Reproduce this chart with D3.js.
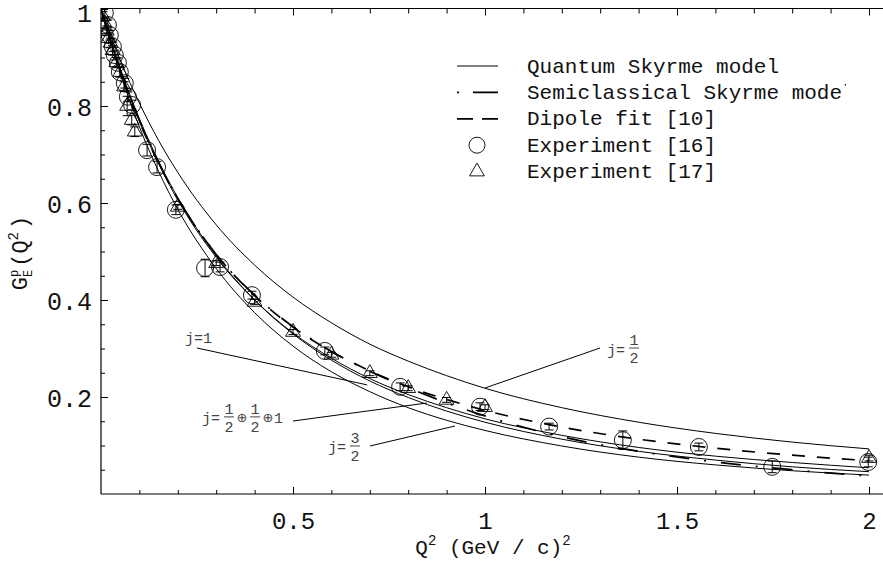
<!DOCTYPE html>
<html><head><meta charset="utf-8">
<script src="https://cdn.jsdelivr.net/npm/d3@7"></script>
<style>body{margin:0;background:#fff}svg{display:block}</style>
</head><body>
<svg id="chart" width="883" height="562"></svg>
<script>
// ---------- data ----------
const q2Grid = [0,0.05,0.1,0.15,0.2,0.3,0.4,0.5,0.6,0.7,0.8,0.9,1.0,1.2,1.4,1.6,1.8,2.0];
const quantumHalf      = [1,0.895,0.806,0.729,0.663,0.555,0.472,0.406,0.353,0.309,0.274,0.244,0.218,0.178,0.148,0.125,0.107,0.093];
const quantumOne       = [1,0.874,0.769,0.681,0.606,0.488,0.400,0.332,0.280,0.238,0.205,0.178,0.155,0.121,0.096,0.078,0.065,0.054];
const quantumMixed     = [1,0.877,0.774,0.686,0.611,0.491,0.400,0.330,0.276,0.233,0.199,0.171,0.148,0.113,0.088,0.070,0.056,0.046];
const quantumThreeHalf = [1,0.868,0.757,0.665,0.587,0.465,0.374,0.305,0.252,0.211,0.178,0.152,0.131,0.099,0.076,0.060,0.048,0.039];
const semiclassical    = [1,0.875,0.770,0.683,0.610,0.494,0.410,0.345,0.294,0.253,0.219,0.188,0.161,0.118,0.088,0.066,0.050,0.037];
const dipoleFit        = [1,0.873,0.768,0.682,0.609,0.494,0.409,0.344,0.294,0.254,0.221,0.195,0.1725,0.138,0.113,0.0945,0.080,0.0686];

const exp16Q   = [0.010,0.018,0.023,0.031,0.036,0.044,0.049,0.062,0.070,0.081,0.120,0.146,0.195,0.271,0.310,0.393,0.583,0.779,0.987,1.167,1.359,1.557,1.748,1.998];
const exp16G   = [0.992,0.967,0.946,0.922,0.905,0.889,0.870,0.847,0.819,0.802,0.709,0.674,0.586,0.466,0.468,0.410,0.295,0.221,0.180,0.139,0.111,0.097,0.056,0.066];
const exp16Err = [0.01,0.01,0.01,0.01,0.01,0.01,0.01,0.01,0.01,0.01,0.012,0.012,0.01,0.018,0.01,0.008,0.008,0.008,0.008,0.007,0.019,0.008,0.012,0.01];

const exp17Q   = [0.005,0.010,0.015,0.020,0.025,0.030,0.040,0.050,0.060,0.068,0.080,0.088,0.2,0.3,0.4,0.5,0.6,0.7,0.8,0.9,1.0,2.0];
const exp17G   = [0.985,0.970,0.955,0.940,0.930,0.915,0.890,0.870,0.840,0.800,0.771,0.747,0.592,0.476,0.396,0.334,0.287,0.249,0.218,0.194,0.179,0.074];
const exp17Err = [0.01,0.01,0.01,0.01,0.01,0.01,0.01,0.01,0.01,0.02,0.01,0.01,0.005,0.005,0.005,0.005,0.005,0.005,0.005,0.005,0.005,0.006];

const xTickValues = [0.5,1,1.5,2];
const xTickLabels = ["0.5","1","1.5","2"];
const yTickValues = [0.2,0.4,0.6,0.8,1];
const yTickLabels = ["0.2","0.4","0.6","0.8","1"];

const legendLabels = ["Quantum Skyrme model","Semiclassical Skyrme model","Dipole fit [10]","Experiment [16]","Experiment [17]"];

// annotation anchors in data units
const annotations = [
  {tokens:["j=1"], at:[0.219,0.311], from:[0.250,0.301], to:[0.693,0.225], simple:true},
  {tokens:["j=",["1","2"],"⊕",["1","2"],"⊕","1"], at:[0.263,0.159], from:[0.500,0.1505], to:[0.849,0.1876]},
  {tokens:["j=",["3","2"]], at:[0.591,0.099], from:[0.7005,0.099], to:[0.9219,0.1402]},
  {tokens:["j=",["1","2"]], at:[1.318,0.301], from:[1.2995,0.301], to:[1.0,0.2186]}
];

// ---------- layout ----------
const svg = d3.select("#chart");
const L = 101, R = 869, T = 9, B = 494;
const x = d3.scaleLinear().domain([0,2]).range([L,R]);
const y = d3.scaleLinear().domain([0,1]).range([B,T]);
const mono = "'Liberation Mono','Courier New',monospace";

svg.append("defs").append("clipPath").attr("id","plotClip")
  .append("rect").attr("x",L).attr("y",8).attr("width",883-L).attr("height",B-8);
svg.select("defs").append("clipPath").attr("id","legClip")
  .append("rect").attr("x",440).attr("y",40).attr("width",846-440).attr("height",160);

// frame
const frame = svg.append("g").attr("stroke","#000").attr("stroke-width",1.2).attr("fill","none");
frame.append("line").attr("x1",L).attr("x2",883).attr("y1",8.5).attr("y2",8.5);
frame.append("line").attr("x1",L).attr("x2",883).attr("y1",B).attr("y2",B);
frame.append("line").attr("x1",L).attr("x2",L).attr("y1",8).attr("y2",B);

function styleAxis(g){ g.select(".domain").remove(); g.selectAll(".tick line").attr("stroke","#000"); }

const xMinor = d3.range(1,21).map(i=>i/10).filter(v=>!xTickValues.some(t=>Math.abs(t-v)<1e-9));
const yMinor = d3.range(1,20).map(i=>i/20).filter(v=>!yTickValues.some(t=>Math.abs(t-v)<1e-9));

// bottom
svg.append("g").attr("transform",`translate(0,${B})`)
  .call(d3.axisBottom(x).tickValues(xTickValues).tickFormat((d,i)=>xTickLabels[i]).tickSize(-7).tickPadding(18))
  .call(styleAxis)
  .call(g=>g.selectAll("text").attr("font-family",mono).attr("font-size",24).attr("fill","#111"));
svg.append("g").attr("transform",`translate(0,${B})`)
  .call(d3.axisBottom(x).tickValues(xMinor).tickFormat("").tickSize(-4)).call(styleAxis);
// top
svg.append("g").attr("transform",`translate(0,8.5)`)
  .call(d3.axisTop(x).tickValues(xTickValues).tickFormat("").tickSize(-7)).call(styleAxis);
svg.append("g").attr("transform",`translate(0,8.5)`)
  .call(d3.axisTop(x).tickValues(xMinor).tickFormat("").tickSize(-5)).call(styleAxis);
// left
svg.append("g").attr("transform",`translate(${L},0)`)
  .call(d3.axisLeft(y).tickValues(yTickValues).tickFormat((d,i)=>yTickLabels[i]).tickSize(-7).tickPadding(9))
  .call(styleAxis)
  .call(g=>g.selectAll("text").attr("font-family",mono).attr("font-size",25).attr("fill","#111")
    .attr("dy",(d,i)=>i===yTickValues.length-1?"0.5em":"0.38em"));
svg.append("g").attr("transform",`translate(${L},0)`)
  .call(d3.axisLeft(y).tickValues(yMinor).tickFormat("").tickSize(-4)).call(styleAxis);

// axis titles
const xt = svg.append("text").attr("x",493).attr("y",554).attr("text-anchor","middle")
  .attr("font-family",mono).attr("font-size",21).attr("fill","#111");
xt.append("tspan").text("Q");
xt.append("tspan").attr("font-size",14).attr("dy",-9).text("2");
xt.append("tspan").attr("dy",9).text(" (GeV / c)");
xt.append("tspan").attr("font-size",14).attr("dy",-9).text("2");

const yt = svg.append("text").attr("transform","translate(27,253) rotate(-90)").attr("text-anchor","middle")
  .attr("font-family",mono).attr("font-size",22).attr("fill","#111");
yt.append("tspan").text("G");
yt.append("tspan").attr("font-size",12).attr("dy",-9).text("p");
yt.append("tspan").attr("font-size",12).attr("dx",-7.2).attr("dy",14).text("E");
yt.append("tspan").attr("dx",3).attr("dy",-5).text("(Q");
yt.append("tspan").attr("font-size",14).attr("dy",-9).text("2");
yt.append("tspan").attr("dx",3).attr("dy",9).text(")");

// curves
const plot = svg.append("g").attr("clip-path","url(#plotClip)");
const line = d3.line().x((d,i)=>x(q2Grid[i])).y(d=>y(d)).curve(d3.curveMonotoneX);
[quantumHalf,quantumOne,quantumMixed,quantumThreeHalf].forEach(s=>{
  plot.append("path").attr("d",line(s)).attr("fill","none").attr("stroke","#000").attr("stroke-width",1);
});
plot.append("path").attr("d",line(semiclassical)).attr("fill","none").attr("stroke","#000")
  .attr("stroke-width",1.7).attr("stroke-dasharray","20,15,2,15");
plot.append("path").attr("d",line(dipoleFit)).attr("fill","none").attr("stroke","#000")
  .attr("stroke-width",1.7).attr("stroke-dasharray","13,12");

// error bars + markers
function errBars(Q,G,E){
  const g = plot.append("g").attr("stroke","#000").attr("stroke-width",1);
  Q.forEach((q,i)=>{
    const cx=x(q), y1=y(G[i]-E[i]), y2=y(G[i]+E[i]);
    g.append("line").attr("x1",cx).attr("x2",cx).attr("y1",y1).attr("y2",y2);
    g.append("line").attr("x1",cx-4.5).attr("x2",cx+4.5).attr("y1",y1).attr("y2",y1);
    g.append("line").attr("x1",cx-4.5).attr("x2",cx+4.5).attr("y1",y2).attr("y2",y2);
  });
}
errBars(exp16Q,exp16G,exp16Err);
errBars(exp17Q,exp17G,exp17Err);
plot.append("g").selectAll("circle").data(exp16Q).join("circle")
  .attr("cx",d=>x(d)).attr("cy",(d,i)=>y(exp16G[i])).attr("r",8.5)
  .attr("fill","none").attr("stroke","#000").attr("stroke-width",0.9);
const tri = d3.symbol().type(d3.symbolTriangle).size(95);
plot.append("g").selectAll("path").data(exp17Q).join("path")
  .attr("d",tri).attr("transform",(d,i)=>`translate(${x(d)},${y(exp17G[i])})`)
  .attr("fill","none").attr("stroke","#000").attr("stroke-width",0.9);

// annotations
const ann = svg.append("g");
annotations.forEach(a=>{
  ann.append("line").attr("x1",x(a.from[0])).attr("y1",y(a.from[1]))
    .attr("x2",x(a.to[0])).attr("y2",y(a.to[1])).attr("stroke","#000").attr("stroke-width",1);
  let cx = x(a.at[0]); const cy = y(a.at[1]);
  if(a.simple){
    ann.append("text").attr("x",cx).attr("y",cy).attr("font-family",mono).attr("font-size",15)
      .attr("fill","#444").text(a.tokens[0]);
    return;
  }
  a.tokens.forEach(tk=>{
    if(Array.isArray(tk)){
      const w=14;
      ann.append("line").attr("x1",cx+2).attr("x2",cx+w-2).attr("y1",cy).attr("y2",cy).attr("stroke","#444").attr("stroke-width",1);
      ann.append("text").attr("x",cx+w/2).attr("y",cy-3).attr("text-anchor","middle").attr("font-family",mono).attr("font-size",15).attr("fill","#444").text(tk[0]);
      ann.append("text").attr("x",cx+w/2).attr("y",cy+15).attr("text-anchor","middle").attr("font-family",mono).attr("font-size",15).attr("fill","#444").text(tk[1]);
      cx+=w;
    } else if(tk==="⊕"){
      ann.append("text").attr("x",cx+6).attr("y",cy+5).attr("text-anchor","middle").attr("font-family","'DejaVu Sans',sans-serif").attr("font-size",13).attr("fill","#444").text(tk);
      cx+=12;
    } else {
      ann.append("text").attr("x",cx).attr("y",cy+6.5).attr("font-family",mono).attr("font-size",15).attr("fill","#444").text(tk);
      cx+=tk.length*9+2;
    }
  });
});

// legend
const leg = svg.append("g");
const rowY = d3.range(5).map(i=>66+i*26.4);
leg.append("line").attr("x1",457).attr("x2",498).attr("y1",rowY[0]).attr("y2",rowY[0]).attr("stroke","#000").attr("stroke-width",1);
leg.append("line").attr("x1",457).attr("x2",498).attr("y1",rowY[1]).attr("y2",rowY[1]).attr("stroke","#000").attr("stroke-width",1.7).attr("stroke-dasharray","2,14,25");
leg.append("line").attr("x1",457).attr("x2",498).attr("y1",rowY[2]).attr("y2",rowY[2]).attr("stroke","#000").attr("stroke-width",1.7).attr("stroke-dasharray","16,9");
leg.append("circle").attr("cx",477).attr("cy",rowY[3]).attr("r",8).attr("fill","none").attr("stroke","#000").attr("stroke-width",0.9);
leg.append("path").attr("d",tri).attr("transform",`translate(477,${rowY[4]})`).attr("fill","none").attr("stroke","#000").attr("stroke-width",0.9);
leg.append("g").attr("clip-path","url(#legClip)").selectAll("text").data(legendLabels).join("text")
  .attr("x",527).attr("y",(d,i)=>rowY[i]+6.5).attr("font-family",mono).attr("font-size",21).attr("fill","#111")
  .attr("xml:space","preserve").text(d=>d);
</script>
</body></html>
